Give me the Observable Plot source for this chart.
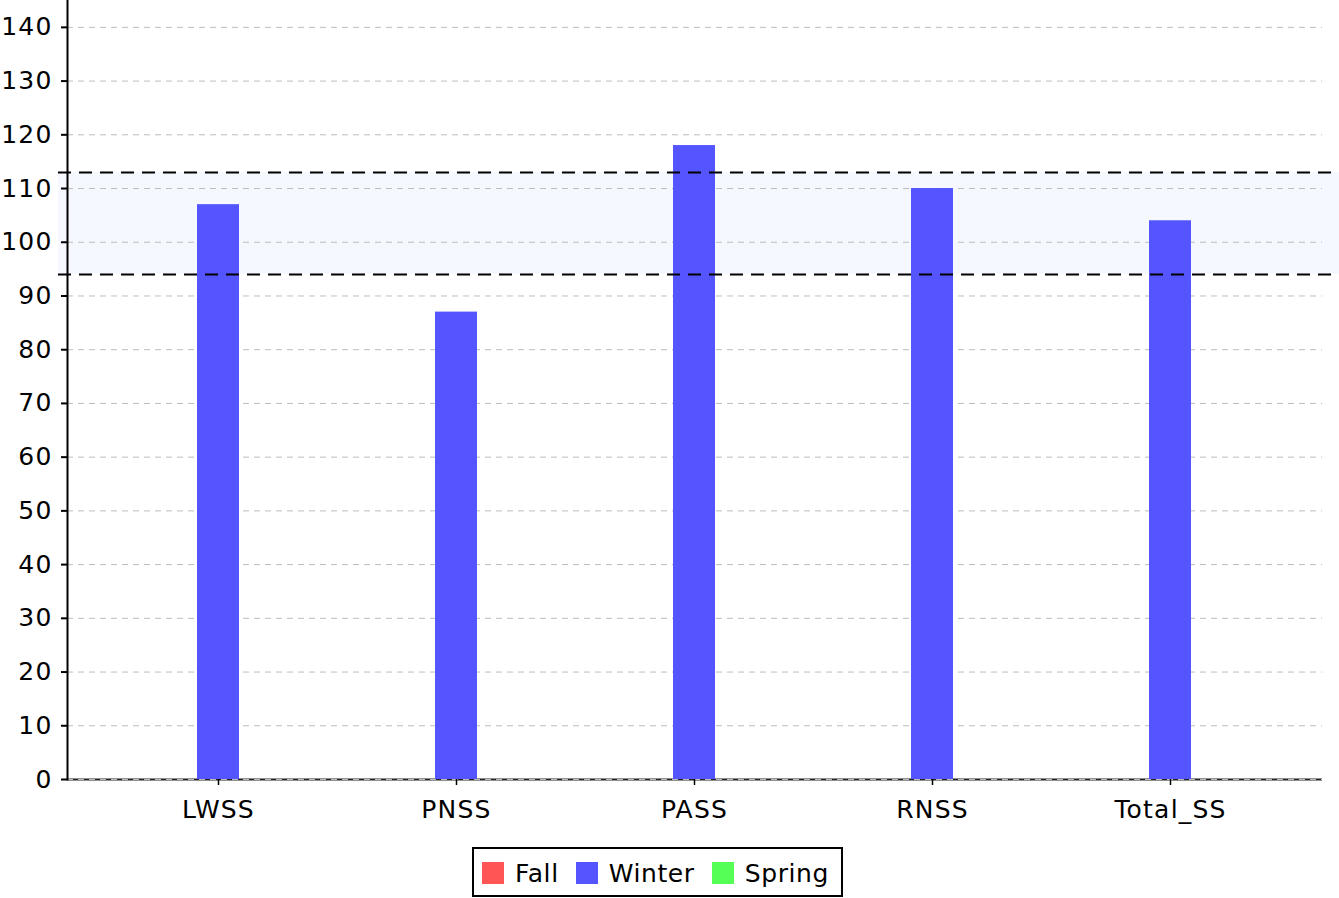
<!DOCTYPE html>
<html>
<head>
<meta charset="utf-8">
<script src="https://cdn.jsdelivr.net/npm/d3@7"></script>
<script src="https://cdn.jsdelivr.net/npm/@observablehq/plot@0.6"></script>
<style>
  html, body { margin: 0; padding: 0; background: white; }
  body { width: 1339px; height: 898px; position: relative; overflow: hidden; font-family: "DejaVu Sans", sans-serif; }
  #chart svg text { letter-spacing: 1.2px; }
  #legend {
    position: absolute; left: 472px; top: 847px;
    border: 2px solid black; box-sizing: border-box; height: 50px;
    display: flex; align-items: center; padding: 2px 12px 0 8px;
    font-size: 25px; letter-spacing: 0.6px; background: white;
  }
  #legend .item { display: flex; align-items: center; margin-right: 17px; }
  #legend .item:last-child { margin-right: 0; }
  #legend .sw { width: 22px; height: 22px; margin-right: 11px; }
</style>
</head>
<body>
<div id="chart"></div>
<div id="legend"></div>
<script>
const categories = ["LWSS", "PNSS", "PASS", "RNSS", "Total_SS"];
const series = ["Fall", "Winter", "Spring"];
const winterValues = [107, 87, 118, 110, 104];
const seriesColors = ["#ff5555", "#5555ff", "#55ff55"];
const yTicks = [0, 10, 20, 30, 40, 50, 60, 70, 80, 90, 100, 110, 120, 130, 140];
const bandLow = 94;
const bandHigh = 113;

const bars = categories.map((c, i) => ({category: c, series: "Winter", value: winterValues[i]}));
const band = [{low: bandLow, high: bandHigh}];

const chart = Plot.plot({
  width: 1339,
  height: 840,
  marginLeft: 67,
  marginRight: 17,
  marginTop: 0,
  marginBottom: 61,
  style: {fontFamily: "DejaVu Sans, sans-serif", fontSize: "25px", color: "black", overflow: "visible"},
  x: {type: "band", domain: categories, paddingInner: 0.8235, paddingOuter: 0.546, label: null},
  y: {domain: [0, 145], label: null},
  color: {domain: series, range: seriesColors},
  marks: [
    Plot.rect(band, {y1: "low", y2: "high", fill: "#f5f8ff", insetLeft: -9, insetRight: -17}),
    Plot.ruleY([0], {stroke: "#222", strokeWidth: 2}),
    Plot.gridY(yTicks, {stroke: "#bdbdbd", strokeOpacity: 1, strokeDasharray: "6,5", strokeWidth: 1}),
    Plot.barY(bars, {x: "category", y: "value", fill: "series"}),
    Plot.ruleY([bandLow, bandHigh], {stroke: "black", strokeWidth: 2, strokeDasharray: "13,8", insetLeft: -9, insetRight: -17}),
    Plot.frame({anchor: "left", stroke: "black", strokeWidth: 2}),
    Plot.axisY({ticks: yTicks, tickSize: 6, tickPadding: 9, tickFormat: d => String(d), label: null, strokeWidth: 2, stroke: "black"}),
    Plot.axisX({tickSize: 6, tickPadding: 15, label: null, stroke: "black", strokeWidth: 1.5})
  ]
});
document.getElementById("chart").appendChild(chart);

const legend = document.getElementById("legend");
series.forEach((s, i) => {
  const item = document.createElement("div");
  item.className = "item";
  const sw = document.createElement("div");
  sw.className = "sw";
  sw.style.background = seriesColors[i];
  const t = document.createElement("span");
  t.textContent = s;
  item.appendChild(sw);
  item.appendChild(t);
  legend.appendChild(item);
});
</script>
</body>
</html>
